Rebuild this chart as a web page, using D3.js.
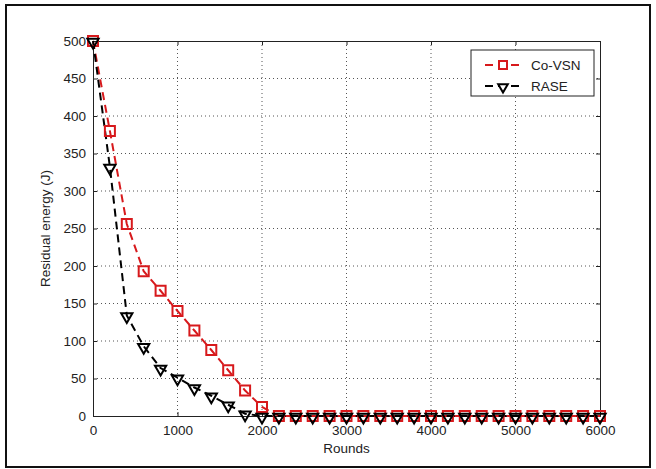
<html>
<head>
<script src="https://d3js.org/d3.v7.min.js"></script>
<style>
  body { margin: 0; background: #fff; }
  text { font-family: "Liberation Sans", Arial, sans-serif; fill: #222; }
  .grid line { stroke: #555; stroke-width: 1px; stroke-dasharray: 1,3; }
</style>
</head>
<body>
<svg id="chart" width="656" height="469"></svg>
<script>
// data
const rounds = d3.range(0, 6001, 200);
const coVSN = [500, 380, 256, 193, 167, 140, 114, 88, 61, 34, 12,
               0, 0, 0, 0, 0, 0, 0, 0, 0, 0, 0, 0, 0, 0, 0, 0, 0, 0, 0, 0];
const rase  = [500, 332, 134, 93, 64, 51, 38, 27, 15, 3, 0,
               0, 0, 0, 0, 0, 0, 0, 0, 0, 0, 0, 0, 0, 0, 0, 0, 0, 0, 0, 0];
const xTicks = [0, 1000, 2000, 3000, 4000, 5000, 6000];
const yTicks = [0, 50, 100, 150, 200, 250, 300, 350, 400, 450, 500];
const seriesNames = ["Co-VSN", "RASE"];

const svg = d3.select("#chart");
const margin = { top: 41, right: 56, bottom: 53, left: 93 };
const w = 656 - margin.left - margin.right;
const h = 469 - margin.top - margin.bottom;

// outer frame
svg.append("rect").attr("x", 6).attr("y", 5).attr("width", 644).attr("height", 462)
   .attr("fill", "none").attr("stroke", "#111").attr("stroke-width", 2);

const g = svg.append("g").attr("transform", `translate(${margin.left},${margin.top})`);

const x = d3.scaleLinear().domain([0, 6000]).range([0, w]);
const y = d3.scaleLinear().domain([0, 500]).range([h, 0]);

// grid
g.append("g").attr("class", "grid")
  .selectAll("line").data(xTicks.slice(1, -1)).join("line")
  .attr("x1", d => x(d)).attr("x2", d => x(d)).attr("y1", 0).attr("y2", h);
g.append("g").attr("class", "grid")
  .selectAll("line").data(yTicks.slice(1, -1)).join("line")
  .attr("y1", d => y(d)).attr("y2", d => y(d)).attr("x1", 0).attr("x2", w);

// axes, ticks inward like matlab
const xAxis = g.append("g").attr("transform", `translate(0,${h})`)
  .call(d3.axisBottom(x).tickValues(xTicks).tickFormat(d3.format("d")).tickSize(-4).tickPadding(9));
const xTop = g.append("g").call(d3.axisTop(x).tickValues(xTicks).tickSize(-4).tickFormat(""));
const yAxis = g.append("g")
  .call(d3.axisLeft(y).tickValues(yTicks).tickSize(-4).tickPadding(7));
const yRight = g.append("g").attr("transform", `translate(${w},0)`)
  .call(d3.axisRight(y).tickValues(yTicks).tickSize(-4).tickFormat(""));
[xAxis, xTop, yAxis, yRight].forEach(a => {
  a.select(".domain").attr("stroke", "#222").attr("stroke-width", 1);
  a.selectAll(".tick line").attr("stroke", "#222");
  a.selectAll("text").attr("font-size", 13.5).attr("fill", "#222")
    .style("font-family", "Liberation Sans, Arial, sans-serif");
});

// labels
svg.append("text").attr("x", margin.left + w / 2).attr("y", 453)
  .attr("text-anchor", "middle").attr("font-size", 13.5).text("Rounds");
svg.append("text").attr("transform", `translate(50,${margin.top + h / 2}) rotate(-90)`)
  .attr("text-anchor", "middle").attr("font-size", 13.5).text("Residual energy (J)");

const line = d3.line().x((d, i) => x(rounds[i])).y(d => y(d));
const colors = ["#d7191c", "#000"];
const datasets = [coVSN, rase];

const tri = d3.symbol().type(d3.symbolTriangle).size(55);

datasets.forEach((ds, k) => {
  g.append("path").datum(ds).attr("d", line)
    .attr("fill", "none").attr("stroke", colors[k]).attr("stroke-width", 2)
    .attr("stroke-dasharray", "8,5");
});
// markers
g.append("g").selectAll("rect").data(coVSN).join("rect")
  .attr("x", (d, i) => x(rounds[i]) - 5).attr("y", d => y(d) - 5)
  .attr("width", 10).attr("height", 10)
  .attr("fill", "none").attr("stroke", colors[0]).attr("stroke-width", 2);
g.append("g").selectAll("path").data(rase).join("path")
  .attr("d", tri)
  .attr("transform", (d, i) => `translate(${x(rounds[i])},${y(d) + 1}) rotate(180)`)
  .attr("fill", "none").attr("stroke", colors[1]).attr("stroke-width", 2);

// legend
const lg = svg.append("g").attr("transform", "translate(471,50)");
lg.append("rect").attr("width", 123).attr("height", 46)
  .attr("fill", "#fff").attr("stroke", "#222").attr("stroke-width", 1);
seriesNames.forEach((name, k) => {
  const yy = 15 + k * 21;
  lg.append("line").attr("x1", 14).attr("x2", 50).attr("y1", yy).attr("y2", yy)
    .attr("stroke", colors[k]).attr("stroke-width", 2).attr("stroke-dasharray", "8,5");
  if (k === 0) {
    lg.append("rect").attr("x", 28).attr("y", yy - 4).attr("width", 8).attr("height", 8)
      .attr("fill", "#fff").attr("stroke", colors[0]).attr("stroke-width", 2);
  } else {
    lg.append("path").attr("d", d3.symbol().type(d3.symbolTriangle).size(40))
      .attr("transform", `translate(32,${yy + 1}) rotate(180)`)
      .attr("fill", "#fff").attr("stroke", colors[1]).attr("stroke-width", 2);
  }
  lg.append("text").attr("x", 60).attr("y", yy + 5).attr("font-size", 13.5).text(name);
});
</script>
</body>
</html>
